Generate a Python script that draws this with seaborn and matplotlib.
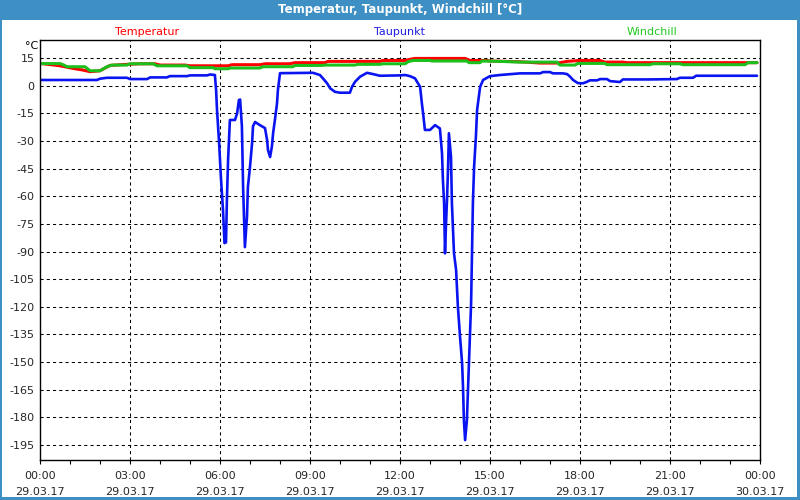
import matplotlib
matplotlib.use("Agg")
import matplotlib.pyplot as plt
import numpy as np
import pandas as pd
import seaborn as sns
from matplotlib.patches import Rectangle

# ---- data (hours since 29.03.17 00:00, °C) ----
temp_hours = [0.00, 0.67, 1.10, 1.43, 1.67, 2.00, 2.33, 2.90, 3.33, 3.83, 4.00, 4.83, 5.00,
              6.27, 6.40, 7.33, 7.50, 8.33, 8.50, 9.50, 9.60, 11.33, 11.43, 12.17, 12.33,
              12.50, 14.17, 14.33, 14.90, 15.00, 16.00, 16.67, 17.23, 17.33, 17.57, 18.00,
              18.67, 18.83, 19.43, 19.57, 23.90]
temp_values = [12.1, 10.8, 9.4, 8.5, 7.6, 8.1, 11.0, 11.6, 11.9, 11.9, 11.2, 11.2, 10.8,
               10.8, 11.4, 11.4, 11.9, 11.9, 12.5, 12.5, 13.2, 13.2, 13.7, 13.7, 14.3,
               14.8, 14.8, 13.7, 13.7, 13.4, 13.0, 12.3, 12.3, 12.5, 13.2, 13.7,
               13.7, 12.8, 12.8, 12.5, 12.5]

dew_hours = [0.00, 1.90, 2.00, 2.23, 2.90, 3.00, 3.57, 3.67, 4.23, 4.33, 4.90, 5.00, 5.57,
             5.67, 5.83, 5.87, 5.90, 5.97, 6.03, 6.10, 6.15, 6.20, 6.23, 6.27, 6.33, 6.50,
             6.57, 6.63, 6.67, 6.73, 6.77, 6.83, 6.90, 6.93, 7.00, 7.07, 7.10, 7.17, 7.33,
             7.50, 7.57, 7.60, 7.67, 7.73, 7.77, 7.83, 7.90, 7.93, 8.00, 9.10, 9.33, 9.43,
             9.57, 9.67, 9.83, 10.00, 10.33, 10.40, 10.50, 10.67, 10.90, 11.10, 11.33,
             12.00, 12.17, 12.33, 12.50, 12.67, 12.73, 12.77, 12.83, 13.00, 13.17, 13.33,
             13.40, 13.43, 13.47, 13.50, 13.53, 13.57, 13.60, 13.63, 13.70, 13.73, 13.80,
             13.87, 13.93, 14.00, 14.07, 14.10, 14.13, 14.17, 14.23, 14.27, 14.30, 14.37,
             14.40, 14.43, 14.47, 14.53, 14.57, 14.67, 14.77, 15.00, 15.33, 16.00, 16.67,
             16.77, 17.00, 17.10, 17.43, 17.57, 17.67, 17.77, 17.93, 18.10, 18.23, 18.33,
             18.57, 18.67, 18.90, 19.00, 19.33, 19.43, 20.33, 21.23, 21.33, 21.77, 21.87,
             23.90]
dew_values = [3.1, 3.1, 3.8, 4.3, 4.3, 3.6, 3.6, 4.5, 4.5, 5.2, 5.2, 5.6, 5.6,
              6.1, 5.8, -2.4, -13.0, -31.0, -49.6, -67.5, -85.4, -85.0, -62.0, -40.0, -18.6, -18.6,
              -15.0, -7.8, -7.5, -22.0, -55.0, -87.6, -71.0, -55.0, -44.0, -31.0, -22.0, -19.7, -21.4,
              -23.0, -29.5, -35.0, -38.7, -33.0, -25.8, -18.6, -9.7, -2.4, 6.8, 7.0, 5.8, 4.0,
              1.3, -1.4, -3.3, -3.8, -3.8, -0.6, 2.1, 4.9, 7.0, 6.3, 5.4,
              5.6, 5.8, 5.2, 4.0, -0.6, -9.7, -15.0, -24.0, -24.0, -21.4, -23.2,
              -36.6, -51.0, -63.7, -91.0, -76.7, -60.5, -45.8, -25.8, -38.7, -63.7, -91.0,
              -100.0, -120.0, -136.0, -150.5, -163.5, -181.5, -192.3, -181.5, -163.5, -149.0, -118.0,
              -91.0, -63.7, -44.0, -27.7, -13.2, -0.6, 3.1, 5.2, 5.8, 6.7, 6.7,
              7.4, 7.4, 6.7, 6.7, 6.3, 4.9, 3.1, 1.4, 1.3, 2.1, 2.9,
              2.9, 3.6, 3.6, 2.5, 2.0, 3.4, 3.4, 3.6, 4.3, 4.3, 5.4,
              5.4]

wind_hours = [0.00, 0.67, 0.77, 0.90, 1.50, 1.67, 2.00, 2.23, 2.40, 2.90, 3.00, 3.77, 3.90,
              4.90, 5.00, 5.77, 5.83, 6.27, 6.33, 7.33, 7.43, 8.43, 8.50, 9.40, 9.50, 10.50,
              10.60, 11.33, 11.43, 12.17, 12.27, 12.43, 13.00, 13.07, 14.23, 14.30, 14.67,
              14.73, 15.33, 16.00, 17.23, 17.33, 17.83, 17.93, 18.83, 18.90, 20.33, 20.43,
              21.33, 21.43, 23.50, 23.60, 23.90]
wind_values = [12.0, 12.0, 11.4, 10.3, 10.3, 8.1, 8.1, 10.3, 11.2, 11.2, 11.9, 11.9, 10.8,
               10.8, 9.8, 9.8, 9.2, 9.2, 9.6, 9.6, 10.3, 10.3, 11.0, 11.0, 11.2, 11.2,
               11.6, 11.6, 11.9, 11.9, 13.0, 13.7, 13.7, 13.4, 13.4, 12.5, 12.5,
               13.4, 13.2, 12.8, 12.8, 11.2, 11.2, 12.1, 12.1, 11.4, 11.4, 11.9,
               11.9, 11.4, 11.4, 12.5, 12.5]

series_names = ["Temperatur", "Taupunkt", "Windchill"]
x_tick_hours = [0, 3, 6, 9, 12, 15, 18, 21, 24]
x_tick_labels = ["00:00\n29.03.17", "03:00\n29.03.17", "06:00\n29.03.17",
                 "09:00\n29.03.17", "12:00\n29.03.17", "15:00\n29.03.17",
                 "18:00\n29.03.17", "21:00\n29.03.17", "00:00\n30.03.17"]
y_ticks = list(range(15, -196, -15))

# ---- style ----
sns.set_style("white")
plt.rcParams['font.family'] = ['DejaVu Sans']

RED = "#ff0000"
BLUE = "#0a14f0"
GREEN = "#1cc01c"
BAR = "#3d8fc4"

W, H = 800, 500
fig = plt.figure(figsize=(8, 5), dpi=100, facecolor="white")
ax = fig.add_axes([40 / W, 1 - 460 / H, 720 / W, 420 / H])
ax.set_facecolor("white")

df_t = pd.DataFrame({"h": temp_hours, "v": temp_values})
df_d = pd.DataFrame({"h": dew_hours, "v": dew_values})
df_w = pd.DataFrame({"h": wind_hours, "v": wind_values})

sns.lineplot(data=df_t, x="h", y="v", ax=ax, color=RED, linewidth=2.2,
             estimator=None, sort=False)
sns.lineplot(data=df_w, x="h", y="v", ax=ax, color=GREEN, linewidth=2.2,
             estimator=None, sort=False)
sns.lineplot(data=df_d, x="h", y="v", ax=ax, color=BLUE, linewidth=1.9,
             estimator=None, sort=False)

ax.set_xlim(0, 24)
ax.set_ylim(-203.1, 24.8)
ax.set_xlabel("")
ax.set_ylabel("")

ax.set_xticks(x_tick_hours)
ax.set_xticklabels(x_tick_labels, fontsize=8, linespacing=1.75)
ax.set_xticks(np.arange(0, 25, 1), minor=True)
ax.set_yticks(y_ticks)
ax.set_yticklabels([str(v) for v in y_ticks], fontsize=8)

ax.tick_params(axis="x", which="both", direction="out", length=3, width=0.8,
               color="black", pad=5, bottom=True)
ax.tick_params(axis="y", which="both", length=0, pad=4, left=True)

ax.grid(True, which="major", color="black", linestyle=(0, (3, 3)), linewidth=0.75)
for s in ax.spines.values():
    s.set_visible(True)
    s.set_color("black")
    s.set_linewidth(1.0)

# ---- title bar and window frame ----
fig.patches.append(Rectangle((0, 1 - 20 / H), 1, 20 / H, transform=fig.transFigure,
                             facecolor=BAR, edgecolor="none", zorder=0))
fig.patches.append(Rectangle((0, 0), 2 / W, 1, transform=fig.transFigure,
                             facecolor=BAR, edgecolor="none"))
fig.patches.append(Rectangle((1 - 3 / W, 0), 3 / W, 1, transform=fig.transFigure,
                             facecolor=BAR, edgecolor="none"))
fig.patches.append(Rectangle((0, 0), 1, 3 / H, transform=fig.transFigure,
                             facecolor=BAR, edgecolor="none"))
fig.text(0.5, 1 - 10 / H, "Temperatur, Taupunkt, Windchill [°C]", color="white",
         fontsize=8.5, fontweight="bold", ha="center", va="center")

# series labels
fig.text(147 / W, 1 - 32 / H, series_names[0], color=RED, fontsize=8, ha="center", va="center")
fig.text(400 / W, 1 - 32 / H, series_names[1], color="#2020e0", fontsize=8, ha="center", va="center")
fig.text(652 / W, 1 - 32 / H, series_names[2], color="#20c820", fontsize=8, ha="center", va="center")
fig.text(32 / W, 1 - 46 / H, "°C", color="black", fontsize=8, ha="center", va="center")

fig.savefig("out.png", dpi=100, facecolor="white")
